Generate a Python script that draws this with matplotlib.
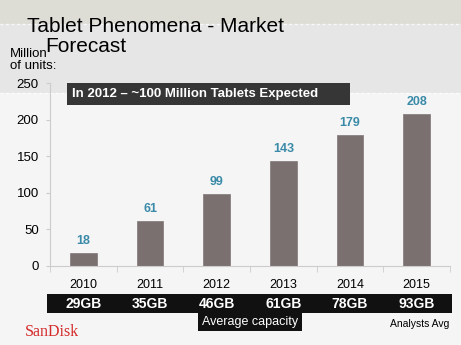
import matplotlib.pyplot as plt
from matplotlib.patches import Rectangle

plt.rcParams['font.family'] = ['Liberation Sans', 'DejaVu Sans']

# Forecast data (million units) and average capacity per year
years = ['2010', '2011', '2012', '2013', '2014', '2015']
units = [18, 61, 99, 143, 179, 208]
capacity = ['29GB', '35GB', '46GB', '61GB', '78GB', '93GB']

W, H = 461, 345
fig = plt.figure(figsize=(W / 100, H / 100), dpi=100, facecolor='#f5f5f5')

def box(x0, y0, x1, y1, color, z=-1):
    # rectangle in pixel coords measured from the top-left corner
    fig.patches.append(Rectangle((x0 / W, 1 - y1 / H), (x1 - x0) / W, (y1 - y0) / H,
                                 transform=fig.transFigure, facecolor=color,
                                 edgecolor='none', zorder=z))

# slide background bands
box(0, 0, W, 24, '#dddcd5', z=-2)
box(0, 24, W, 93, '#e6e6e6', z=-2)
for yy in (24, 93):
    fig.add_artist(plt.Line2D([0, 1], [1 - yy / H] * 2, transform=fig.transFigure,
                              color='white', lw=1, ls=(0, (2, 2)), alpha=0.8, zorder=-1))

ax = fig.add_axes([50 / W, (H - 266) / H, 400 / W, (266 - 83) / H])
ax.set_facecolor('none')
x = range(len(years))
bars = ax.bar(x, units, width=0.4, color='#7a7070', edgecolor='#8a8282', lw=0.6)
for xi, v in zip(x, units):
    ax.text(xi, v + 8, str(v), ha='center', va='bottom', color='#3a8aa8',
            fontsize=9, fontweight='bold')

ax.set_xlim(-0.5, 5.5)
ax.set_ylim(0, 250)
ax.set_yticks([0, 50, 100, 150, 200, 250])
ax.set_xticks(list(x))
ax.set_xticklabels(years)
ax.set_xticks([i + 0.5 for i in range(-1, 6)], minor=True)
ax.tick_params(axis='x', which='major', length=0, pad=9, labelsize=9)
ax.tick_params(axis='x', which='minor', length=4, color='#cccccc', direction='out')
ax.tick_params(axis='y', length=3, color='#cccccc', labelsize=9.5, pad=5)
for s in ('top', 'right'):
    ax.spines[s].set_visible(False)
ax.spines['left'].set_color('#cccccc')
ax.spines['left'].set_linestyle((0, (1, 1)))
ax.spines['bottom'].set_color('#cccccc')

# title and axis caption
fig.text(27 / W, 1 - 26 / H, 'Tablet Phenomena - Market', fontsize=15, va='center')
fig.text(45 / W, 1 - 46 / H, 'Forecast', fontsize=15, va='center')
fig.text(10 / W, 1 - 60 / H, 'Million\nof units:', fontsize=9.5, va='center',
         linespacing=0.95)

# headline box
box(67, 83, 350, 105, '#363636', z=3)
fig.text(72 / W, 1 - 94 / H, 'In 2012 \u2013 ~100 Million Tablets Expected', color='white',
         fontsize=9.5, fontweight='bold', va='center', zorder=4)

# capacity band under the years
box(47, 294, 452, 313, '#111111', z=3)
for xi, c in zip(x, capacity):
    px = ax.transData.transform((xi, 0))[0]
    fig.text(px / fig.dpi / fig.get_figwidth(), 1 - 304 / H, c, color='white',
             fontsize=10, fontweight='bold', ha='center', va='center', zorder=4)
box(198, 313, 302, 331, '#111111', z=3)
fig.text(250 / W, 1 - 322 / H, 'Average capacity', color='white', fontsize=9,
         ha='center', va='center', zorder=4)
fig.text(449 / W, 1 - 324 / H, 'Analysts Avg', fontsize=7.5, ha='right', va='center')
fig.text(25 / W, 1 - 332 / H, 'SanDisk', color='#d42a2a', fontsize=11.5,
         family='Liberation Serif', va='center')

fig.savefig('out.png', dpi=100, facecolor=fig.get_facecolor())
